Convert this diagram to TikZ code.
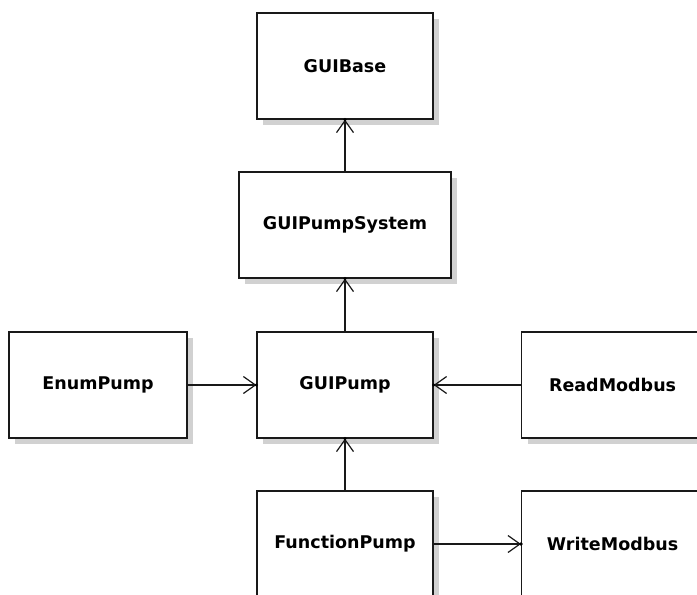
\documentclass[tikz,border=0pt]{standalone}
\usepackage{fontspec}
\setmainfont{DejaVu Sans}
\usetikzlibrary{arrows.meta,shadows}
\tikzset{
  cls/.style={draw=black!90, line width=1.2pt, fill=white, minimum height=106pt,
    inner sep=0pt, font=\bfseries\fontsize{17.5}{20}\selectfont,
    drop shadow={shadow xshift=6pt, shadow yshift=-6pt, fill=black!18, opacity=1}},
  dep/.style={draw=black!90, line width=1.2pt,
    -{Straight Barb[length=12pt,width=17pt,line width=1.2pt]}},
  tipdot/.style={fill=black}
}
\begin{document}
\begin{tikzpicture}[x=1pt,y=-1pt]
\useasboundingbox (0,0) rectangle (697,595);
\clip (0,0) rectangle (697,595);
\node[cls, minimum width=176pt] (base) at (345,66) {GUIBase};
\node[cls, minimum width=212pt] (sys) at (345,225) {GUIPumpSystem};
\node[cls, minimum width=178pt] (enum) at (98,385) {EnumPump};
\node[cls, minimum width=176pt] (pump) at (345,385) {GUIPump};
\node[cls, minimum width=182pt, anchor=west] (read) at (521,385) {ReadModbus};
\node[cls, minimum width=176pt] (func) at (345,544) {FunctionPump};
\node[cls, minimum width=182pt, anchor=west] (write) at (521,544) {WriteModbus};
\draw[dep] (sys.north) -- (base.south);
\draw[dep] (pump.north) -- (sys.south);
\draw[dep] (enum.east) -- (pump.west);
\draw[dep] (read.west) -- (pump.east);
\draw[dep] (func.north) -- (pump.south);
\draw[dep] (func.east) -- (write.west);
\foreach \p in {base.south,sys.south,pump.west,pump.east,pump.south,write.west}
  \fill[tipdot] (\p) circle (1.8pt);
\end{tikzpicture}
\end{document}
